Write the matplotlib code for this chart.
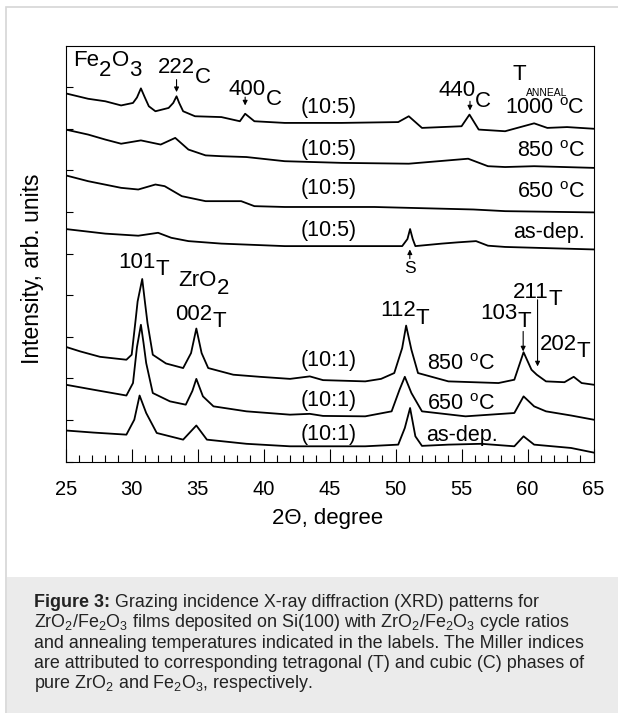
import matplotlib
matplotlib.use('Agg')
import matplotlib.pyplot as plt
from matplotlib.patches import Rectangle

plt.rcParams['font.family'] = ['Liberation Sans', 'DejaVu Sans']
plt.rcParams['mathtext.fontset'] = 'custom'
plt.rcParams['mathtext.rm'] = 'Liberation Sans'
plt.rcParams['mathtext.it'] = 'Liberation Sans:italic'
plt.rcParams['mathtext.bf'] = 'Liberation Sans:bold'

# (10:5) films, offset intensities
x_1000 = [25.0, 26.7, 28.0, 29.2, 30.1, 30.4, 30.7, 31.0, 31.3, 31.8, 32.8, 33.15, 33.4, 33.6, 33.9, 34.8,
          36.8, 38.2, 38.6, 39.3, 41.6, 45.9, 50.2, 51.0, 52.0, 55.0, 55.6, 56.3, 58.3, 60.5, 61.5, 63.0, 65.0]
y_1000 = [8.85, 8.72, 8.66, 8.56, 8.62, 8.75, 8.97, 8.75, 8.54, 8.42, 8.50, 8.62, 8.78, 8.62, 8.42, 8.30,
          8.28, 8.18, 8.36, 8.18, 8.14, 8.14, 8.16, 8.30, 8.02, 8.06, 8.34, 7.98, 7.94, 8.13, 8.02, 8.04, 8.00]

x_850a = [25.0, 26.7, 28.0, 29.2, 30.7, 32.2, 33.3, 34.3, 35.6, 36.8, 38.7, 41.6, 45.9, 51.0, 55.5, 57.0, 58.3, 60.5, 65.0]
y_850a = [7.98, 7.86, 7.74, 7.64, 7.72, 7.62, 7.78, 7.50, 7.36, 7.34, 7.32, 7.22, 7.18, 7.16, 7.28, 7.10, 7.08, 7.10, 7.06]

x_650a = [25.0, 26.7, 29.2, 30.5, 31.8, 32.5, 33.8, 35.6, 38.3, 39.3, 41.6, 48.4, 55.9, 58.3, 65.0]
y_650a = [6.88, 6.74, 6.58, 6.54, 6.66, 6.62, 6.38, 6.26, 6.26, 6.14, 6.12, 6.12, 6.06, 6.02, 5.99]

x_asda = [25.0, 28.0, 30.5, 32.0, 33.0, 34.3, 36.8, 41.6, 50.5, 50.9, 51.1, 51.3, 51.5, 53.5, 54.7, 56.1, 57.0, 58.3, 65.0]
y_asda = [5.59, 5.48, 5.43, 5.50, 5.38, 5.30, 5.24, 5.18, 5.18, 5.35, 5.59, 5.35, 5.18, 5.24, 5.27, 5.30, 5.19, 5.16, 5.10]

# (10:1) films
x_850b = [25.0, 26.1, 27.6, 29.6, 30.0, 30.3, 30.45, 30.8, 31.0, 31.2, 31.6, 32.6, 33.9, 34.5, 34.9, 35.3, 35.8,
          37.7, 39.7, 42.0, 43.5, 44.5, 47.7, 48.9, 49.9, 50.5, 50.8, 51.2, 51.7, 54.0, 57.8, 59.0, 59.7,
          60.3, 60.7, 61.4, 62.8, 63.5, 64.1, 65.0]
y_850b = [2.76, 2.65, 2.52, 2.45, 2.57, 3.41, 3.85, 4.39, 3.85, 3.33, 2.57, 2.36, 2.25, 2.61, 3.20, 2.61, 2.25,
          2.09, 2.04, 1.99, 2.05, 1.96, 1.93, 1.99, 2.13, 2.73, 3.27, 2.69, 2.13, 1.93, 1.89, 1.97, 2.63,
          2.21, 2.09, 1.93, 1.91, 2.04, 1.89, 1.85]

x_650b = [25.0, 27.1, 29.6, 30.1, 30.4, 30.7, 30.9, 31.1, 31.6, 32.9, 34.1, 34.6, 34.9, 35.4, 36.2, 38.7, 42.0,
          43.5, 44.5, 47.7, 49.7, 50.3, 50.7, 51.2, 52.0, 55.3, 59.0, 59.7, 60.5, 61.4, 63.3, 65.0]
y_650b = [1.85, 1.73, 1.59, 1.89, 2.75, 3.29, 2.85, 2.37, 1.65, 1.45, 1.37, 1.70, 1.99, 1.57, 1.33, 1.21, 1.13,
          1.15, 1.10, 1.09, 1.21, 1.73, 2.04, 1.65, 1.21, 1.09, 1.17, 1.57, 1.33, 1.21, 1.11, 1.01]

x_asdb = [25.0, 27.1, 29.6, 30.2, 30.6, 31.1, 31.9, 33.9, 34.9, 35.7, 38.7, 42.0, 47.7, 50.2, 50.7, 51.1, 51.5,
          52.0, 54.0, 56.5, 59.0, 59.7, 60.5, 63.3, 65.0]
y_asdb = [0.75, 0.70, 0.65, 1.01, 1.59, 1.17, 0.69, 0.53, 0.87, 0.53, 0.43, 0.37, 0.37, 0.41, 0.81, 1.29, 0.61,
          0.38, 0.41, 0.43, 0.37, 0.61, 0.41, 0.33, 0.22]

fig = plt.figure(figsize=(6.18, 7.13), dpi=100)
renderer = fig.canvas.get_renderer()

# page frame and caption box
fig.patches.append(Rectangle((6 / 618, -0.01), 1.05, 1.01 - 6.7 / 713, transform=fig.transFigure,
                             facecolor='white', edgecolor='#d6d6d6', lw=1.2, zorder=-3))
fig.patches.append(Rectangle((6.6 / 618, 0), 1.0, 1 - 577 / 713, transform=fig.transFigure,
                             facecolor='#ebebeb', edgecolor='none', zorder=-2))

ax = fig.add_axes([65.7 / 618, 1 - 461.7 / 713, 527.8 / 618, 416.2 / 713])
ax.set_facecolor('none')
ax.set_zorder(1)

for xs, ys in [(x_1000, y_1000), (x_850a, y_850a), (x_650a, y_650a), (x_asda, y_asda),
               (x_850b, y_850b), (x_650b, y_650b), (x_asdb, y_asdb)]:
    ax.plot(xs, ys, color='black', lw=1.3)

ax.set_xlim(25, 65)
ax.set_ylim(0, 10.0)
ax.set_xticks(range(25, 66, 5))
ax.set_xticks(range(25, 66, 1), minor=True)
ax.set_yticks(range(0, 10))
ax.set_yticklabels([])
ax.tick_params(axis='x', which='major', direction='in', length=9.4, width=0.8, labelsize=14.5, pad=13)
ax.tick_params(axis='x', which='minor', direction='in', length=4.8, width=0.8)
ax.tick_params(axis='y', direction='in', length=5, width=0.8)
for s in ax.spines.values():
    s.set_linewidth(0.8)

fig.text(33 / 618, 1 - 269 / 713, 'Intensity, arb. units', rotation=90, ha='center', va='center', fontsize=16.5)
fig.text(328 / 618, 1 - 524 / 713, '2\u0398, degree', ha='center', va='baseline', fontsize=16)


def sublabel(x, y, parts, size=16, drop=7.5):
    # write text pieces one after another, subscripts at full size but lowered
    off = 0.0
    for txt, low in parts:
        t = ax.annotate(txt, xy=(x, y), xytext=(off, -drop if low else 0), textcoords='offset points',
                        fontsize=size, va='baseline')
        off += t.get_window_extent(renderer).width * 72 / fig.dpi


sublabel(25.58, 9.50, [('Fe', 0), ('2', 1), ('O', 0), ('3', 1)], drop=7)
sublabel(31.99, 9.34, [('222', 0), ('C', 1)])
sublabel(37.34, 8.82, [('400', 0), ('C', 1)])
sublabel(53.23, 8.78, [('440', 0), ('C', 1)])
ax.text(58.88, 9.18, 'T', fontsize=16, va='baseline')
ax.text(59.92, 8.78, 'ANNEAL', fontsize=7.5, va='baseline')
ax.text(51.08, 4.54, 'S', fontsize=12.5, ha='center', va='baseline')

sublabel(28.98, 4.66, [('101', 0), ('T', 1)], drop=5.5)
sublabel(33.53, 4.21, [('ZrO', 0), ('2', 1)], drop=5.5)
sublabel(33.28, 3.41, [('002', 0), ('T', 1)], drop=5.5)
sublabel(48.81, 3.49, [('112', 0), ('T', 1)], drop=5.5)
sublabel(56.39, 3.43, [('103', 0), ('T', 1)], drop=5.5)
sublabel(58.91, 3.94, [('211', 0), ('T', 1)], drop=5.5)
sublabel(60.93, 2.69, [('202', 0), ('T', 1)], drop=5.5)

arrows = [((33.4, 8.88), (33.4, 9.18)), ((38.6, 8.56), (38.6, 8.76)), ((55.64, 8.44), (55.64, 8.66)),
          ((59.67, 2.65), (59.67, 3.13)), ((60.76, 2.29), (60.76, 3.89)), ((51.08, 5.10), (51.08, 4.88))]
for tip, tail in arrows:
    ax.annotate('', xy=tip, xytext=tail,
                arrowprops=dict(arrowstyle='-|>', lw=0.8, color='black', mutation_scale=7, shrinkA=0, shrinkB=0))

# ratio and temperature labels
fs2 = 15.5
for yb in [8.39, 7.38, 6.42, 5.42]:
    ax.text(44.9, yb, '(10:5)', fontsize=fs2, ha='center', va='baseline')
for yb in [2.29, 1.33, 0.51]:
    ax.text(44.9, yb, '(10:1)', fontsize=fs2, ha='center', va='baseline')
for yb, lab in zip([8.35, 7.33, 6.33, 5.37], ['1000 $^\\mathrm{o}$C', '850 $^\\mathrm{o}$C', '650 $^\\mathrm{o}$C', 'as-dep.']):
    ax.text(64.35, yb, lab, fontsize=fs2, ha='right', va='baseline')
for yb, lab in zip([2.21, 1.25, 0.49], ['850 $^\\mathrm{o}$C', '650 $^\\mathrm{o}$C', 'as-dep.']):
    ax.text(52.35, yb, lab, fontsize=fs2, ha='left', va='baseline')

caption = [
    ' Grazing incidence X-ray diffraction (XRD) patterns for',
    'ZrO$_2$/Fe$_2$O$_3$ films deposited on Si(100) with ZrO$_2$/Fe$_2$O$_3$ cycle ratios',
    'and annealing temperatures indicated in the labels. The Miller indices',
    'are attributed to corresponding tetragonal (T) and cubic (C) phases of',
    'pure ZrO$_2$ and Fe$_2$O$_3$, respectively.',
]
cap_fs = 12.9
x0 = 33.5 / 618
bold = fig.text(x0, 1 - 607 / 713, 'Figure 3:', fontsize=cap_fs, fontweight='bold', va='baseline', color='#222222')
bb = bold.get_window_extent(renderer).transformed(fig.transFigure.inverted())
for i, line in enumerate(caption):
    xx = bb.x1 if i == 0 else x0
    fig.text(xx, 1 - (607 + 20.3 * i) / 713, line, fontsize=cap_fs, va='baseline', color='#222222')

fig.savefig('out.png', dpi=100)
